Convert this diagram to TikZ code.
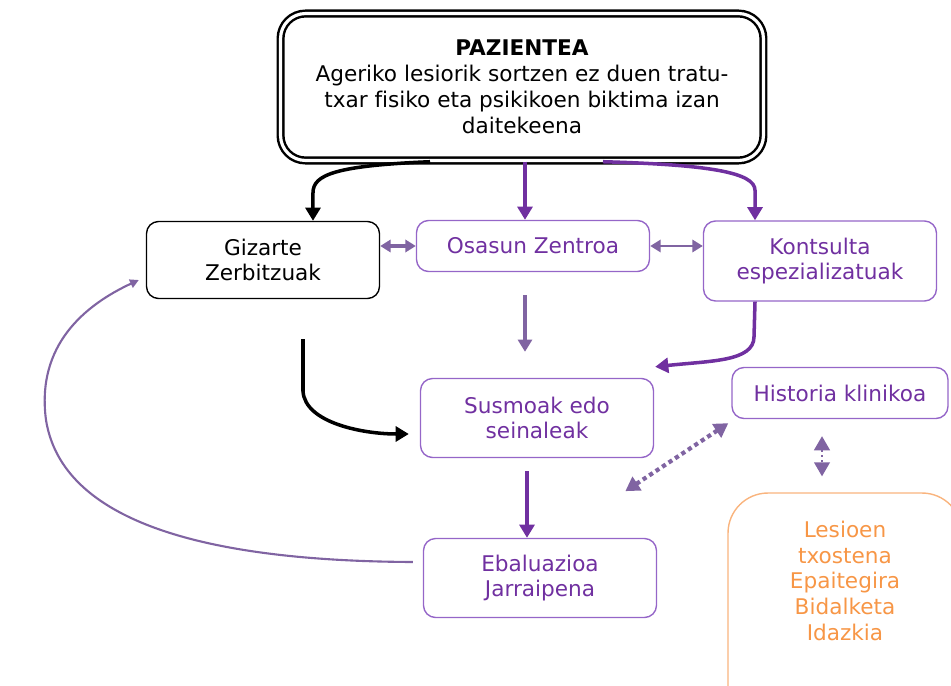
\documentclass[tikz,border=0pt]{standalone}
\usepackage{fontspec}
\setmainfont{DejaVu Sans}[Ligatures=NoCommon]
\usetikzlibrary{arrows.meta}
\definecolor{darkpurple}{HTML}{7030A0}
\definecolor{boxline}{HTML}{9566C8}
\definecolor{lightpurple}{HTML}{8064A2}
\definecolor{orangetext}{HTML}{F79646}
\definecolor{orangeline}{HTML}{F9B47E}

\begin{document}
\begin{tikzpicture}[x=0.02cm, y=-0.02cm, thick,
    box/.style={draw, rounded corners=0.24cm, minimum width=4.66cm, align=center, inner sep=0pt, font=\fontsize{12.3}{14.7}\selectfont},
    purplebox/.style={box, draw=boxline, text=darkpurple},
    mainarrow/.style={line width=2pt, -{Triangle[width=8.5pt,length=7.5pt]}},
    softarrow/.style={lightpurple, line width=1.4pt, {Triangle[width=7pt,length=6pt]}-{Triangle[width=7pt,length=6pt]}}]
    \useasboundingbox (0,0) rectangle (951,686);

    \node[box, double, line width=1.4pt, double distance=1.8pt, rounded corners=0.5cm, minimum width=9.66cm, minimum height=2.94cm] at (522,87) (pazi) {\textbf{PAZIENTEA}\\Ageriko lesiorik sortzen ez duen tratu-\\txar fisiko eta psikikoen biktima izan\\daitekeena};

    \node[box, minimum height=1.54cm] at (263,260) (gizarte) {Gizarte\\Zerbitzuak};
    \node[purplebox, minimum height=1.02cm] at (533,246) (osasun) {Osasun Zentroa};
    \node[purplebox, minimum height=1.6cm] at (820,261) (kontsulta) {Kontsulta\\espezializatuak};
    \node[purplebox, minimum height=1.58cm] at (537,418) (susmoak) {Susmoak edo\\seinaleak};
    \node[purplebox, minimum width=4.32cm, minimum height=1.02cm] at (840,393) (historia) {Historia klinikoa};
    \node[purplebox, minimum height=1.58cm] at (540,578) (ebaluazioa) {Ebaluazioa\\Jarraipena};

    \node[draw=orangeline, rounded corners=0.8cm, minimum width=4.68cm, minimum height=4.68cm] at (845,610) (lesioen) {};
    \node[anchor=north, align=center, text=orangetext, font=\fontsize{12.3}{14.7}\selectfont] at ([yshift=-0.44cm]lesioen.north) (lesioentxt) {Lesioen\\txostena\\Epaitegira\\Bidalketa\\Idazkia};

    % from the patient
    \draw[mainarrow] ([xshift=-1.84cm]pazi.south) .. controls +(-95,4) and +(0,-18) .. ([xshift=1cm,yshift=0.56cm]gizarte.north) -- ([xshift=1cm]gizarte.north);
    \draw[mainarrow, darkpurple] ([xshift=0.06cm]pazi.south) -- ([xshift=0.06cm]pazi.south |- osasun.north);
    \draw[mainarrow, darkpurple] ([xshift=1.62cm]pazi.south) .. controls +(105,3) and +(0,-18) .. ([xshift=-1.3cm,yshift=0.6cm]kontsulta.north) -- ([xshift=-1.3cm]kontsulta.north);

    \draw[softarrow, line width=2.2pt] (osasun.west -| gizarte.east) -- (osasun.west);
    \draw[softarrow] (osasun.east) -- (osasun.east -| kontsulta.west);

    % towards the signs
    \draw[lightpurple, line width=1.8pt, -{Triangle[width=8pt,length=7pt]}, shorten <=0.46cm, shorten >=0.52cm] ([xshift=-0.16cm]osasun.south) -- ([xshift=-0.16cm]osasun.south |- susmoak.north);
    \draw[mainarrow, darkpurple] ([xshift=-1.3cm]kontsulta.south) -- ++(-1,35) .. controls +(0,25) and +(55,-6) .. ([xshift=0.02cm,yshift=0.22cm]susmoak.north east);
    \draw[mainarrow] ([xshift=0.8cm,yshift=-0.8cm]gizarte.south) -- ++(0,52) .. controls +(2,32) and +(-45,0) .. ([xshift=-0.22cm,yshift=-0.32cm]susmoak.west);
    \draw[mainarrow, darkpurple, shorten <=0.26cm] ([xshift=-0.2cm]susmoak.south) -- ([xshift=-0.2cm]susmoak.south |- ebaluazioa.north);

    % record links
    \draw[lightpurple, line width=2.4pt, dotted, {Triangle[width=9pt,length=8pt]}-{Triangle[width=9pt,length=8pt]}] ([xshift=-0.06cm,yshift=-0.08cm]historia.south west) -- ([xshift=-2.12cm,yshift=-1.44cm]historia.south west);
    \draw[lightpurple, line width=1pt, dotted, shorten <=0.34cm, shorten >=0.32cm, {Triangle[width=9pt,length=8pt]}-{Triangle[width=9pt,length=8pt]}] ([xshift=-0.36cm]historia.south) -- ([xshift=-0.36cm]historia.south |- lesioen.north);

    % back to social services
    \draw[lightpurple, line width=1.2pt, -{Triangle[width=5pt,length=5pt]}] ([xshift=-0.2cm,yshift=0.32cm]ebaluazioa.west) .. controls (200,561) and (62,520) .. (46,420) .. controls (36,345) and (85,305) .. ([xshift=-0.14cm,yshift=-0.4cm]gizarte.west);
\end{tikzpicture}
\end{document}
